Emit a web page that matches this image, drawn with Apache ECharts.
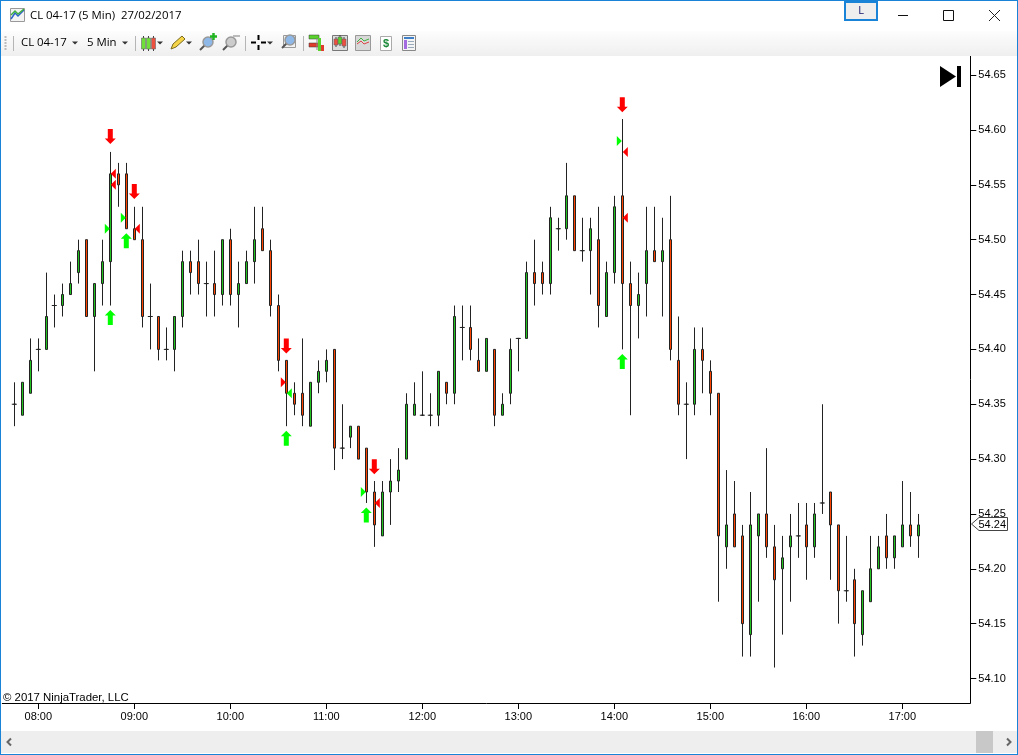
<!DOCTYPE html>
<html>
<head>
<meta charset="utf-8">
<title>CL 04-17 (5 Min)</title>
<script src="https://cdn.jsdelivr.net/npm/echarts@6/dist/echarts.min.js"></script>
<style>html,body{margin:0;padding:0;background:#fff;overflow:hidden}#c{width:1018px;height:755px}</style>
</head>
<body>
<div id="c"></div>
<script>
const times = ["07:40","07:45","07:50","07:55","08:00","08:05","08:10","08:15","08:20","08:25","08:30","08:35","08:40","08:45","08:50","08:55",
"09:00","09:05","09:10","09:15","09:20","09:25","09:30","09:35","09:40","09:45","09:50","09:55",
"10:00","10:05","10:10","10:15","10:20","10:25","10:30","10:35","10:40","10:45","10:50","10:55",
"11:00","11:05","11:10","11:15","11:20","11:25","11:30","11:35","11:40","11:45","11:50","11:55",
"12:00","12:05","12:10","12:15","12:20","12:25","12:30","12:35","12:40","12:45","12:50","12:55",
"13:00","13:05","13:10","13:15","13:20","13:25","13:30","13:35","13:40","13:45","13:50","13:55",
"14:00","14:05","14:10","14:15","14:20","14:25","14:30","14:35","14:40","14:45","14:50","14:55",
"15:00","15:05","15:10","15:15","15:20","15:25","15:30","15:35","15:40","15:45","15:50","15:55",
"16:00","16:05","16:10","16:15","16:20","16:25","16:30","16:35","16:40","16:45","16:50","16:55",
"17:00","17:05","17:10","17:15","17:20","17:25","17:30","17:35","17:40"];
const hourLabels = ["08:00","09:00","10:00","11:00","12:00","13:00","14:00","15:00","16:00","17:00"];
const priceTicks = [54.10,54.15,54.20,54.25,54.30,54.35,54.40,54.45,54.50,54.55,54.60,54.65];

// one entry per 5-minute bar, from 07:45 to 17:10
const opens = [54.35,54.34,54.36,54.40,54.40,54.44,54.44,54.45,54.47,54.50,54.43,54.46,54.48,54.56,54.56,54.51,54.50,54.43,54.43,54.40,54.40,54.43,54.48,54.48,54.46,54.46,54.45,54.50,54.45,54.46,54.48,54.51,54.49,54.44,54.39,54.36,54.36,54.33,54.37,54.38,54.40,54.31,54.32,54.33,54.31,54.27,54.23,54.27,54.28,54.30,54.34,54.34,54.34,54.34,54.37,54.36,54.42,54.42,54.39,54.38,54.40,54.34,54.36,54.41,54.41,54.47,54.47,54.46,54.51,54.51,54.54,54.49,54.49,54.50,54.43,54.47,54.54,54.46,54.44,54.46,54.49,54.48,54.50,54.39,54.35,54.35,54.40,54.38,54.36,54.22,54.25,54.23,54.14,54.23,54.25,54.22,54.20,54.22,54.23,54.24,54.22,54.26,54.27,54.24,54.18,54.19,54.14,54.17,54.20,54.23,54.21,54.22,54.24,54.23];
const closes = [54.35,54.37,54.39,54.40,54.43,54.44,54.45,54.46,54.49,54.43,54.46,54.48,54.56,54.55,54.51,54.50,54.43,54.43,54.40,54.40,54.43,54.48,54.47,54.46,54.46,54.45,54.50,54.45,54.46,54.48,54.50,54.49,54.44,54.39,54.36,54.35,54.34,54.37,54.38,54.39,54.31,54.31,54.33,54.30,54.27,54.24,54.27,54.28,54.29,54.35,54.35,54.34,54.34,54.38,54.36,54.43,54.42,54.40,54.38,54.41,54.34,54.35,54.40,54.41,54.47,54.46,54.46,54.52,54.51,54.54,54.49,54.49,54.51,54.44,54.47,54.53,54.46,54.44,54.45,54.49,54.48,54.49,54.40,54.35,54.35,54.40,54.39,54.36,54.23,54.24,54.22,54.15,54.24,54.25,54.22,54.19,54.21,54.23,54.23,54.22,54.25,54.26,54.24,54.18,54.18,54.15,54.18,54.20,54.22,54.21,54.23,54.24,54.23,54.24];
const lows = [54.33,54.34,54.36,54.38,54.40,54.42,54.43,54.45,54.46,54.43,54.38,54.44,54.44,54.53,54.51,54.50,54.42,54.40,54.39,54.39,54.38,54.42,54.45,54.45,54.43,54.43,54.44,54.44,54.42,54.46,54.46,54.49,54.43,54.38,54.33,54.34,54.33,54.33,54.36,54.37,54.29,54.30,54.31,54.30,54.26,54.22,54.23,54.24,54.27,54.30,54.34,54.34,54.33,54.33,54.35,54.35,54.39,54.39,54.38,54.38,54.33,54.34,54.35,54.38,54.41,54.44,54.45,54.45,54.49,54.50,54.49,54.48,54.45,54.42,54.43,54.46,54.40,54.34,54.41,54.43,54.48,54.43,54.39,54.34,54.30,54.34,54.36,54.34,54.17,54.20,54.22,54.12,54.12,54.17,54.21,54.11,54.14,54.17,54.21,54.19,54.21,54.25,54.19,54.15,54.17,54.12,54.13,54.17,54.20,54.20,54.20,54.22,54.22,54.21];
const highs = [54.37,54.37,54.41,54.41,54.47,54.45,54.46,54.48,54.50,54.50,54.46,54.50,54.58,54.57,54.57,54.53,54.53,54.46,54.43,54.42,54.43,54.49,54.49,54.50,54.48,54.49,54.50,54.51,54.48,54.49,54.53,54.53,54.50,54.45,54.39,54.37,54.41,54.37,54.39,54.40,54.40,54.35,54.33,54.33,54.31,54.28,54.28,54.30,54.31,54.36,54.37,54.38,54.36,54.38,54.37,54.44,54.44,54.44,54.41,54.41,54.40,54.36,54.41,54.41,54.48,54.50,54.48,54.53,54.52,54.57,54.54,54.52,54.52,54.53,54.48,54.54,54.61,54.48,54.47,54.53,54.53,54.52,54.54,54.43,54.37,54.42,54.42,54.39,54.36,54.29,54.28,54.24,54.27,54.25,54.31,54.24,54.23,54.25,54.26,54.26,54.26,54.35,54.27,54.24,54.23,54.20,54.18,54.23,54.23,54.25,54.23,54.28,54.27,54.25];

// signal markers: bar index and price
const downArrowBars = [12,15,34,45,76];
const downArrowPrices = [54.594,54.544,54.403,54.293,54.623];
const upArrowBars = [12,14,34,44,76];
const upArrowPrices = [54.429,54.499,54.319,54.249,54.389];
const entryLongBars = [12,14,44,76];
const entryLongPrices = [54.51,54.52,54.27,54.59];
const exitLongBars = [12,12,15,45,76,76];
const exitLongPrices = [54.56,54.55,54.51,54.26,54.58,54.52];
const entryShortBars = [34];
const entryShortPrices = [54.37];
const exitShortBars = [34];
const exitShortPrices = [54.36];
const lastPrice = 54.24;

const FONT = '"Liberation Sans", Arial, sans-serif';
const UI = '"Open Sans", "Noto Sans", sans-serif';
const candleData = opens.map((o,i)=>[times[i+1],o,closes[i],lows[i],highs[i]]);
const pts = (bars,prices)=>bars.map((b,i)=>[times[b+1],prices[i]]);
const dojiData = opens.map((o,i)=>o===closes[i]?[times[i+1],o]:null).filter(Boolean);

const ARROW_DOWN='path://M3 0H8V9.5H11L5.5 15L0 9.5H3Z';
const ARROW_UP='path://M5.5 0L11 5.5H8V15H3V5.5H0Z';
const TRI_R='path://M0 0L5 5L0 10Z';
const TRI_L='path://M5 0L0 5L5 10Z';
function marker(name,bars,prices,symbol,size,offset,color){
  return {name,type:'scatter',data:pts(bars,prices),symbol,symbolSize:size,symbolOffset:offset,
    itemStyle:{color,opacity:1},silent:true,z:5};
}

// window chrome, drawn with the graphic component
const g=[];
const rect=(x,y,w,h,fill,extra)=>g.push(Object.assign({type:'rect',shape:{x,y,width:w,height:h},style:Object.assign({fill},extra||{}),silent:true},{z:20}));
const line=(x1,y1,x2,y2,stroke,w)=>g.push({type:'line',shape:{x1,y1,x2,y2},style:{stroke,lineWidth:w||1},silent:true,z:21});
const txt=(x,y,text,font,fill,align)=>g.push({type:'text',x,y,style:{text,font,fill:fill||'#000',textAlign:align||'left',textVerticalAlign:'middle'},silent:true,z:22});
const poly=(points,fill,stroke,w)=>g.push({type:'polygon',shape:{points},style:{fill:fill||'none',stroke:stroke||null,lineWidth:w||1},silent:true,z:21});
const circ=(cx,cy,r,fill,stroke,w)=>g.push({type:'circle',shape:{cx,cy,r},style:{fill,stroke,lineWidth:w||1},silent:true,z:21});
const drop=(x,y)=>poly([[x-3,y-1.5],[x+3,y-1.5],[x,y+1.5]],'#333');
const candleIcon=(x,y,h,c)=>{line(x,y-2,x,y+h+2,'#444',1);g.push({type:'rect',shape:{x:x-2,y,width:4,height:h},style:{fill:c,stroke:'#666',lineWidth:.6},silent:true,z:22});};
const lens=(x,y,c)=>{line(x-6,y+6,x-1,y+1,'#555',2);circ(x+2,y-2,5,c,'#999',1.5);};

// blue window frame
rect(0,0,1018,1,'#1883d7');rect(0,0,1,755,'#1883d7');rect(1017,0,1,755,'#1883d7');rect(0,754,1018,1,'#1883d7');
// title bar
rect(10.5,8.5,14,13,'#f4f4f4',{stroke:'#999',lineWidth:1});
g.push({type:'polyline',shape:{points:[[11,19],[15,13],[18,16],[24,10]]},style:{stroke:'#2e63c8',lineWidth:1.5,fill:'none'},silent:true,z:21});
g.push({type:'polyline',shape:{points:[[11,15],[15,11],[18,14],[24,9]]},style:{stroke:'#3fb03f',lineWidth:1.5,fill:'none'},silent:true,z:21});
txt(30,16,'CL 04-17 (5 Min)  27/02/2017','11.4px '+UI,'#000');
rect(845,2,32,18,'#eeeeee',{stroke:'#1883d7',lineWidth:2});
txt(861,11,'L','11px '+UI,'#10106a','center');
line(898,15.5,908,15.5,'#111',1);
rect(943.5,10.5,10,10,'none',{stroke:'#111',lineWidth:1});
line(989,10,1000,21,'#222',1);line(1000,10,989,21,'#222',1);
// toolbar
g.push({type:'rect',shape:{x:1,y:31,width:1016,height:25},style:{fill:new echarts.graphic.LinearGradient(0,0,0,1,[{offset:0,color:'#fdfdfd'},{offset:1,color:'#efefef'}])},silent:true,z:20});
for(const y of [36,39,42,45,48]) rect(4.5,y,2,2,'#bbb');
for(const x of [13.5,135.5,245.5,303.5]) line(x,36,x,51,'#b5b5b5',1);
txt(21,43,'CL 04-17','11.4px '+UI);drop(75,43);
txt(87,43,'5 Min','11.4px '+UI);drop(125,43);
candleIcon(143.5,38,11,'#6fe03a');candleIcon(148.5,38,11,'#6fe03a');candleIcon(153.5,38,11,'#ee5040');drop(160,43);
poly([[171,49],[173,44],[182,36],[185,39],[176,47]],'#f5d547','#7a6a20');drop(189,43);
lens(206,44,'#8db8e8');line(210,36.5,217,36.5,'#22b422',2.5);line(213.5,33,213.5,40,'#22b422',2.5);
lens(229,44,'#cccccc');line(233,36,240,36,'#bbbbbb',2);
line(251,42.5,256,42.5,'#000',2);line(261,42.5,266,42.5,'#000',2);line(258.5,35,258.5,40,'#000',2);line(258.5,45,258.5,50,'#000',2);drop(270,43);
rect(283.5,35.5,12,12,'#f2f2f2',{stroke:'#999',lineWidth:1});lens(288,42,'#8db8e8');
rect(309,35,10,4,'#59d22d',{stroke:'#3a3a3a',lineWidth:.5});rect(309,43,10,4,'#e03a2c',{stroke:'#3a3a3a',lineWidth:.5});
line(317,38,317,50,'#888',1);rect(318,38,3,13,'#59d22d');rect(321,45,3,6,'#e03a2c');
rect(332.5,35.5,15,15,'#ddd',{stroke:'#777',lineWidth:1});candleIcon(336,39,6,'#ee5040');candleIcon(340,37,7,'#59d22d');candleIcon(344,39,7,'#ee5040');
rect(355.5,35.5,15,15,'#d8d8d8',{stroke:'#999',lineWidth:1});
g.push({type:'polyline',shape:{points:[[357,42],[361,38],[364,41],[369,39]]},style:{stroke:'#3fb03f',lineWidth:1,fill:'none'},silent:true,z:22});
g.push({type:'polyline',shape:{points:[[357,44],[361,41],[364,44],[369,42]]},style:{stroke:'#d44',lineWidth:1,fill:'none'},silent:true,z:22});
rect(380.5,36.5,11,14,'#ffffff',{stroke:'#aaa',lineWidth:1});txt(386,44,'$','bold 11px '+FONT,'#1d8a3a','center');
rect(402.5,35.5,13,15,'#f4f4f4',{stroke:'#888',lineWidth:1});rect(404,37,10,2,'#3f7fc8');rect(404,40,3,9,'#a46be0');rect(408,41,6,1,'#9ab');rect(408,44,6,1,'#9ab');rect(408,47,6,1,'#9ab');
// jump to latest button
poly([[940,66],[940,87],[956,76.5]],'#000');rect(957,66,4,21,'#000');
// last price flag
poly([[971.5,524],[979,517.5],[1007.5,517.5],[1007.5,530.5],[979,530.5]],'#fff','#444',1);
txt(978.5,524.5,lastPrice.toFixed(2),'11px '+FONT,'#000');
// copyright
txt(3,697.5,'\u00a9 2017 NinjaTrader, LLC','11.4px '+FONT,'#000');
// scroll bar
rect(1,731,1016,22,'#eeeeee');
rect(976,731,17,22,'#c8c8c8');
g.push({type:'polyline',shape:{points:[[11,738.5],[7.5,742],[11,745.5]]},style:{stroke:'#666',lineWidth:2,fill:'none'},silent:true,z:22});
g.push({type:'polyline',shape:{points:[[1007,738.5],[1010.5,742],[1007,745.5]]},style:{stroke:'#666',lineWidth:2,fill:'none'},silent:true,z:22});

const chart=echarts.init(document.getElementById('c'),null,{renderer:'canvas'});
chart.setOption({
  animation:false,
  backgroundColor:'#fff',
  grid:{left:2.3,top:56,width:968,height:647,containLabel:false},
  xAxis:{type:'category',data:times,boundaryGap:true,
    axisLine:{show:true,lineStyle:{color:'#000',width:1}},
    axisTick:{show:true,alignWithLabel:true,length:6,lineStyle:{color:'#000'},interval:(i,v)=>hourLabels.includes(v)},
    axisLabel:{show:true,color:'#000',fontFamily:FONT,fontSize:11,margin:8,hideOverlap:false,interval:(i,v)=>hourLabels.includes(v)},
    splitLine:{show:false}},
  yAxis:{type:'value',position:'right',min:54.07767,max:54.66745,scale:true,
    axisLine:{show:true,onZero:false,lineStyle:{color:'#000',width:1}},
    axisTick:{show:true,length:6,lineStyle:{color:'#000'},customValues:priceTicks},
    axisLabel:{show:true,color:'#000',fontFamily:FONT,fontSize:11,margin:8,customValues:priceTicks,formatter:v=>v.toFixed(2)},
    splitLine:{show:false}},
  tooltip:{show:false},
  legend:{show:false},
  series:[
    {name:'CL 04-17',type:'candlestick',data:candleData,encode:{x:0,y:[1,2,3,4]},barWidth:3,silent:true,z:2,
      itemStyle:{color:'#22c422',color0:'#ff4500',borderColor:'#222',borderColor0:'#222',borderColorDoji:'#222',borderWidth:1}},
    {name:'Doji',type:'scatter',data:dojiData,symbol:'rect',symbolSize:[5,1],itemStyle:{color:'#222',opacity:1},silent:true,z:3},
    marker('Short signal',downArrowBars,downArrowPrices,ARROW_DOWN,[11,15],[0,0],'#ff0000'),
    marker('Long signal',upArrowBars,upArrowPrices,ARROW_UP,[11,15],[0,0],'#00ff00'),
    marker('Long entry',entryLongBars,entryLongPrices,TRI_R,[5,10],[-3,0],'#00ff00'),
    marker('Long exit',exitLongBars,exitLongPrices,TRI_L,[5,10],[3,0],'#ff0000'),
    marker('Short entry',entryShortBars,entryShortPrices,TRI_R,[5,10],[-3,0],'#ff0000'),
    marker('Short exit',exitShortBars,exitShortPrices,TRI_L,[5,10],[3,0],'#00ff00')
  ],
  graphic:g
});
</script>
</body>
</html>
